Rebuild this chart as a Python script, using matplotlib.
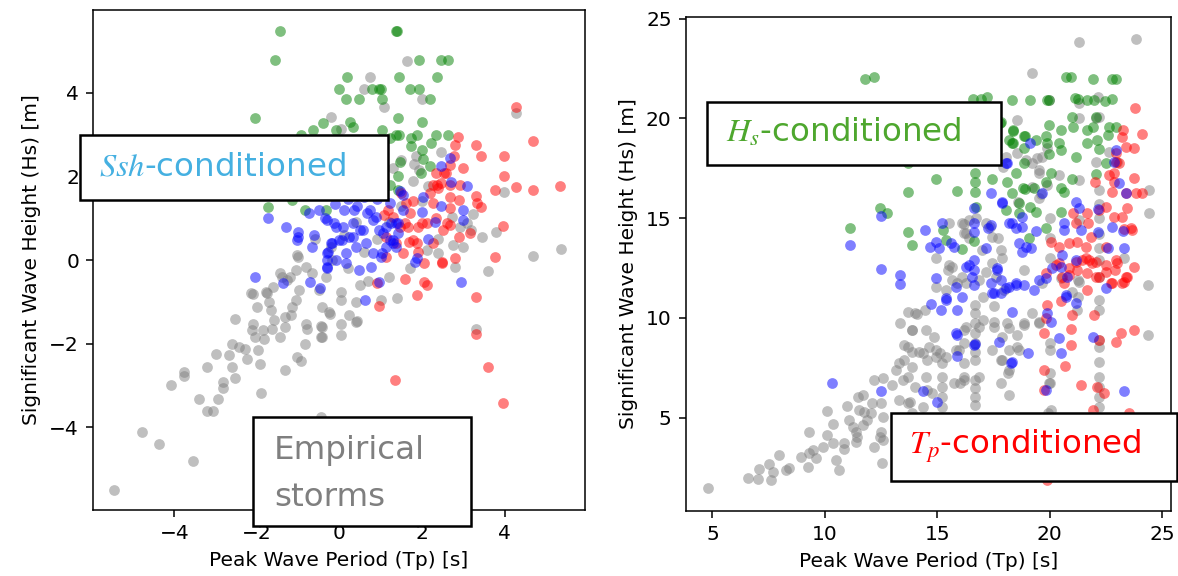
import matplotlib
matplotlib.use("Agg")
import matplotlib.pyplot as plt
from matplotlib.patches import Rectangle

# ---- data: (Tp, Hs) pairs per group ----

# left panel (standardised values)
left_empirical = [
    (-5.47, -5.49), (-4.78, -4.11), (-4.36, -4.39), (-3.54, -4.8), (-4.08, -2.98), (-3.76, -2.67),
    (-3.76, -2.78), (-3.22, -2.55), (-3.4, -3.32), (-3.22, -3.61), (-3.07, -3.61), (-2.93, -3.32),
    (-2.81, -2.92), (-2.81, -3.05), (-2.52, -2.82), (-2.6, -2.55), (-2.68, -2.28), (-2.99, -2.24),
    (-2.52, -1.42), (-1.9, -3.18), (-1.32, -2.63), (-1.02, -2.32), (-0.94, -2.42), (-0.84, -2.02),
    (-2.1, -0.82), (-1.99, -1.12), (-2.1, -1.54), (-1.79, -0.76), (-2.6, -2.02), (-2.44, -2.08),
    (-2.28, -2.12), (-2.24, -2.36), (-1.98, -2.16), (-1.93, -2.48), (-2.04, -1.84), (-1.83, -1.88),
    (-2.12, -1.68), (-1.86, -1.68), (-1.65, -1.2), (-1.71, -1.0), (-1.59, -1.44), (-1.63, -1.64),
    (-1.43, -1.84), (-1.32, -1.6), (-1.31, -1.36), (-1.14, -1.12), (-1.18, -1.32), (-1.05, -0.96),
    (-0.82, -1.52), (-0.78, -1.64), (-0.45, -1.59), (-0.45, -1.84), (-0.24, -1.28), (-0.41, -1.12),
    (-0.49, -0.72), (-0.98, -0.72), (-1.27, -0.48), (-1.43, -0.32), (-1.06, -0.24), (-1.02, 0.12),
    (-0.82, -0.16), (-0.66, -0.32), (-0.33, -0.4), (-0.17, 0.0), (-1.01, 0.08), (-1.19, -0.4),
    (-1.38, -0.4), (-1.62, -0.64), (-1.75, -0.8), (-2.13, -0.8), (-0.45, -3.75),
    (0.04, -0.96), (0.04, -0.76), (-0.26, -1.24), (0.24, -1.32), (0.04, -1.52), (0.04, -1.8),
    (-0.42, -1.84), (-0.42, -1.6), (0.39, -1.0), (0.42, -1.46), (0.39, -1.48), (1.01, -0.95),
    (1.4, -0.9), (3.31, -1.64), (3.61, -0.26), (4.69, 0.1), (5.37, 0.26), (3.79, 0.68),
    (3.46, 0.56), (3.18, 0.72), (2.99, 0.32), (2.76, 0.36), (2.81, -0.16), (2.39, 0.16),
    (2.11, 0.24), (2.92, 0.8), (2.72, 1.04), (3.08, 0.88), (3.23, 1.11), (3.99, 1.62),
    (4.27, 3.51), (2.47, 2.58), (1.85, 2.48), (1.5, 2.4), (1.93, 2.16), (1.78, 1.9),
    (2.15, 1.76), (1.64, 4.77), (0.75, 4.37), (0.59, 4.1), (1.09, 3.67), (-0.2, 3.41),
    (0.04, 3.13), (1.99, 3.86), (-0.2, 0.3), (0.1, 0.6), (0.4, 0.9), (0.6, 0.2), (0.9, 0.5),
    (1.2, 0.9), (1.5, 1.3), (1.0, 1.6), (0.3, 1.8), (1.3, 2.2), (0.8, 2.4), (1.8, 2.3),
    (2.0, 1.4), (2.4, 0.5), (1.7, -0.2), (1.2, -0.4), (0.7, -0.5), (-0.6, 0.5), (0.2, -0.2),
    (0.5, -0.6),
]
left_hs_cond = [
    (-1.43, 5.47), (-1.55, 4.78), (1.36, 5.47), (1.40, 5.47), (1.94, 4.78), (2.47, 4.78),
    (2.64, 4.78), (0.18, 4.37), (1.45, 4.37), (2.37, 4.37), (-0.02, 4.09), (1.70, 4.09),
    (1.92, 4.09), (1.01, 4.09), (0.8, 4.09), (0.95, 4.09), (0.15, 3.86), (0.47, 3.86),
    (1.04, 3.86), (2.2, 3.86), (-2.05, 3.39), (1.41, 3.39), (1.99, 3.29), (-0.40, 3.28),
    (0.25, 3.3), (0.34, 3.18), (-0.64, 3.12), (-0.08, 3.12), (-0.92, 3.0), (1.04, 3.1),
    (1.44, 2.98), (1.87, 2.98), (2.34, 2.98), (2.64, 2.98), (1.74, 2.92), (1.74, 2.72),
    (1.99, 2.64), (2.23, 2.8), (2.03, 2.42), (2.19, 2.24), (1.46, 2.34), (1.98, 2.08),
    (1.42, 2.0), (1.22, 2.92), (1.22, 1.8), (1.42, 1.68), (1.04, 1.68), (-1.72, 1.27),
    (-0.83, 1.19), (-1.15, 1.44), (-0.32, 1.2), (1.38, 3.0), (0.5, 2.6), (0.9, 2.3),
    (0.2, 1.9), (0.7, 1.6), (-0.2, 2.1), (0.95, 2.7),
]
left_ssh_cond = [
    (-2.05, -0.4), (-1.37, -0.56), (-0.72, -0.52), (-0.48, -0.67), (-0.29, -0.2), (-0.29, 0.0),
    (-0.27, 0.2), (-0.66, 0.32), (-1.02, 0.48), (-0.17, 0.4), (0.62, -0.96), (0.96, -0.52),
    (2.94, -0.52), (-1.73, 1.0), (-1.29, 0.78), (-1.01, 0.68), (-1.01, 0.56), (-0.62, 0.6),
    (-0.73, 1.12), (-0.5, 1.2), (-0.31, 0.96), (-0.08, 0.8), (0.11, 1.2), (0.43, 1.28),
    (0.67, 1.12), (0.81, 0.96), (0.57, 0.72), (0.34, 0.56), (0.06, 0.48), (-0.31, 0.16),
    (-0.31, -0.16), (-0.08, 0.0), (0.15, -0.08), (0.48, -0.24), (0.76, -0.16), (1.04, 0.16),
    (1.23, 0.48), (1.41, 0.64), (-0.36, 1.0), (-0.12, 0.88), (0.36, 1.2), (0.73, 1.2),
    (0.89, 1.04), (0.97, 0.72), (0.49, 0.72), (0.24, 0.56), (0.0, 0.48), (-0.2, 0.4),
    (0.16, 0.16), (0.41, 0.32), (0.65, 0.4), (0.81, 0.16), (1.14, 0.32), (1.3, 0.48),
    (1.38, 0.88), (0.32, 0.88), (0.08, 0.8), (2.68, 2.44), (2.47, 2.26), (2.7, 1.86),
    (3.1, 1.78), (1.46, 1.64), (1.54, 1.56), (2.03, 1.5), (2.47, 1.28), (2.01, 1.16),
    (3.0, 1.19), (3.0, 0.96), (2.31, 0.92), (2.15, 0.5), (1.22, 1.36), (1.54, 1.2),
    (1.26, 0.88), (1.42, 0.88), (1.14, 0.8), (1.3, 0.4), (1.38, 0.32), (1.05, 0.64),
    (1.01, 0.08), (1.87, 0.04), (1.83, -0.04), (0.6, 1.5), (0.9, 1.45), (0.2, 1.45),
    (-0.1, 1.35),
]
left_tp_cond = [
    (4.28, 3.67), (4.69, 2.84), (2.88, 2.94), (2.81, 2.75), (3.30, 2.75), (3.43, 2.48),
    (3.98, 2.48), (3.98, 2.0), (3.77, 1.68), (4.28, 1.75), (4.69, 1.68), (5.35, 1.76),
    (2.77, 2.48), (2.34, 2.08), (2.53, 2.08), (2.37, 1.8), (2.67, 1.8), (2.69, 2.28),
    (2.58, 2.08), (2.47, 1.84), (2.27, 1.8), (2.39, 1.72), (2.92, 1.8), (2.9, 1.43),
    (3.31, 1.54), (3.43, 1.26), (3.33, 1.36), (2.69, 1.5), (2.68, 1.24), (2.27, 1.36),
    (2.35, 1.0), (2.6, 0.88), (2.52, 0.72), (2.68, 0.84), (3.16, 0.64), (2.9, 0.55),
    (3.97, 0.82), (3.77, 0.08), (1.69, 0.44), (1.91, 0.18), (2.27, 0.4), (2.11, 0.88),
    (1.18, 1.2), (1.3, 1.04), (1.62, 1.36), (1.78, 1.4), (1.7, 1.12), (1.46, 0.8),
    (1.66, 0.8), (1.14, 0.56), (1.38, 0.4), (1.58, 0.88), (1.91, 0.8), (1.99, 0.88),
    (1.78, 0.48), (1.14, 0.08), (1.54, 0.16), (1.87, 0.4), (1.09, 1.08), (2.81, 0.04),
    (2.48, -0.04), (1.6, -0.46), (2.06, -0.52), (2.11, -0.6), (3.32, -0.88), (1.88, -0.84),
    (0.97, -1.1), (0.91, -0.54), (2.49, -0.06), (2.04, -0.06), (3.31, -1.76), (3.61, -2.55),
    (1.35, -2.86), (3.97, -3.41), (3.0, 2.2), (1.5, 1.6), (2.2, 1.6),
]

# right panel (physical values)
right_empirical = [
    (4.79, 1.46), (6.57, 1.99), (7.01, 1.93), (7.61, 1.88), (7.09, 2.41), (7.53, 2.66),
    (7.98, 3.13), (7.68, 2.29), (8.28, 2.38), (8.42, 2.46), (8.94, 3.01), (9.24, 2.54),
    (9.31, 3.22), (9.46, 3.38), (9.61, 2.96), (9.9, 3.55), (10.12, 4.13), (10.35, 3.72),
    (10.5, 2.88), (10.64, 2.38), (10.87, 3.75), (10.87, 3.42), (10.12, 5.35), (10.35, 4.67),
    (9.28, 4.3), (11.01, 5.59), (11.46, 6.05), (11.68, 6.14), (11.39, 3.8), (11.06, 4.88),
    (11.24, 4.55), (11.39, 4.3), (11.76, 5.27), (12.05, 5.22), (12.12, 5.72), (12.2, 6.89),
    (12.57, 6.97), (12.5, 5.72), (12.57, 5.05), (12.5, 4.3), (12.57, 3.88), (12.2, 3.55),
    (12.54, 2.74), (13.01, 6.64), (13.16, 7.39), (13.31, 7.73), (13.46, 6.89), (13.68, 7.06),
    (13.68, 5.72), (13.31, 5.89), (13.53, 7.89), (13.68, 8.56), (13.34, 9.73), (13.68, 10.28),
    (14.12, 10.2), (13.88, 9.39), (14.5, 9.39), (14.35, 8.26), (14.5, 7.06), (14.64, 8.56),
    (14.87, 9.06), (14.94, 8.06), (14.45, 10.4), (14.03, 10.23), (13.87, 9.4), (13.53, 8.64),
    (13.87, 8.31), (14.2, 8.31), (14.53, 7.89), (13.87, 7.56), (14.03, 6.55), (14.53, 6.39),
    (13.78, 5.8), (14.36, 5.55), (13.87, 5.22), (13.45, 4.55), (14.2, 4.22), (13.45, 3.88),
    (11.87, 4.88), (12.45, 4.05), (11.7, 4.63), (11.45, 4.05), (11.53, 5.39),
    (16.7, 10.65), (16.7, 10.23), (16.7, 9.73), (16.7, 9.23), (16.7, 8.73), (16.7, 8.31),
    (16.7, 7.89), (16.7, 6.89), (16.7, 6.47), (16.7, 6.05), (16.7, 5.64), (15.2, 7.73),
    (15.2, 7.06), (15.2, 6.55), (15.2, 6.05), (15.2, 5.55), (15.12, 8.23), (16.2, 9.4),
    (16.2, 8.73), (16.2, 7.73), (16.2, 7.06), (16.03, 6.72), (15.95, 8.39), (17.03, 11.07),
    (17.03, 9.9), (17.53, 10.57), (17.53, 9.56), (17.87, 9.06), (18.12, 9.73), (18.53, 8.56),
    (18.87, 9.73), (19.2, 10.23), (17.87, 7.89), (18.16, 7.23), (18.2, 8.39), (19.53, 9.73),
    (20.03, 8.73), (20.03, 8.39), (20.03, 7.23), (20.03, 6.72), (19.95, 5.22), (22.2, 10.9),
    (22.2, 10.4), (22.2, 8.89), (22.2, 8.56), (22.2, 7.81), (22.2, 7.06), (22.2, 6.55),
    (22.2, 6.05), (22.2, 5.55), (21.28, 11.9), (21.28, 11.07), (21.2, 10.4), (24.4, 11.65),
    (24.4, 9.15), (14.94, 11.57), (15.39, 11.4), (15.9, 11.74), (17.53, 9.81), (18.2, 9.48),
    (18.87, 9.65), (19.53, 9.81), (18.64, 8.39), (18.57, 9.15), (17.83, 7.89), (18.2, 7.39),
    (17.83, 6.72), (18.2, 6.14), (17.46, 8.39), (16.87, 7.06), (16.2, 6.89), (15.76, 6.72),
    (15.83, 8.39), (15.39, 8.06), (14.94, 8.39), (14.79, 6.22), (16.28, 9.56), (16.87, 9.56),
    (19.98, 6.72), (20.05, 5.39), (21.31, 23.85), (23.83, 23.97), (19.24, 22.29),
    (19.98, 20.93), (21.31, 20.76), (22.2, 20.09), (18.57, 19.92), (21.31, 20.01),
    (22.07, 20.01), (19.68, 18.08), (19.53, 17.42), (20.42, 17.17), (21.31, 16.91),
    (22.07, 17.83), (22.64, 18.33), (24.42, 16.41), (24.42, 15.28), (18.05, 18.08),
    (19.24, 17.75), (21.31, 11.82), (22.2, 12.07), (19.68, 11.74), (18.87, 12.4),
    (22.15, 21.09), (16.12, 14.74), (16.41, 14.91), (16.72, 14.99), (17.16, 14.74),
    (17.46, 14.07), (17.83, 13.41), (17.01, 13.41), (16.28, 14.27), (16.41, 13.99),
    (14.94, 12.99), (15.46, 12.4), (15.68, 12.57), (16.12, 12.07), (15.68, 11.9),
    (16.28, 11.74), (16.87, 11.9), (17.16, 12.32), (17.46, 12.74), (17.9, 12.99),
    (17.61, 12.07), (17.98, 11.4), (18.53, 18.25), (17.95, 17.58), (18.95, 17.92),
    (19.45, 18.0), (19.53, 17.25), (19.87, 16.66), (19.53, 16.0), (19.2, 16.58),
    (18.61, 15.83), (16.2, 14.71), (16.2, 14.24), (17.7, 13.99), (17.36, 14.57),
    (15.53, 14.74), (15.53, 12.65), (22.2, 12.9), (22.2, 13.5), (22.2, 14.2), (22.2, 15.0),
    (22.2, 15.7), (22.2, 16.4), (20.0, 13.0), (20.0, 14.0), (20.0, 15.0), (19.6, 16.2),
    (23.0, 17.8), (21.3, 14.9), (20.5, 12.0), (21.0, 11.3), (23.3, 13.0), (19.9, 18.5),
]
right_hs_cond = [
    (11.78, 21.98), (12.2, 22.06), (16.61, 20.98), (16.94, 20.96), (17.23, 21.06),
    (18.32, 20.93), (19.12, 20.93), (19.9, 20.93), (19.98, 20.93), (20.72, 22.09),
    (20.94, 22.09), (21.95, 21.96), (22.79, 21.96), (22.94, 21.96), (21.13, 21.01),
    (21.28, 20.96), (21.68, 20.93), (21.98, 20.93), (22.47, 20.89), (22.79, 20.99),
    (21.01, 20.06), (22.08, 20.06), (19.98, 19.67), (20.5, 19.42), (21.04, 19.56),
    (21.68, 19.42), (21.93, 19.59), (22.64, 19.56), (22.94, 19.56), (18.38, 19.42),
    (18.91, 19.12), (18.32, 18.78), (19.39, 18.92), (19.83, 19.12), (19.9, 18.75),
    (20.42, 18.78), (21.68, 18.78), (22.13, 18.92), (22.58, 19.17), (18.87, 18.5),
    (19.98, 18.22), (20.5, 18.42), (22.2, 18.45), (21.19, 18.05), (18.87, 17.78),
    (22.5, 17.78), (18.52, 17.28), (20.08, 17.28), (22.07, 17.22), (18.12, 16.83),
    (18.82, 16.5), (19.31, 16.5), (19.83, 16.83), (20.5, 16.5), (20.64, 16.33),
    (20.99, 16.95), (18.32, 16.28), (18.64, 15.75), (18.64, 15.25), (19.39, 15.33),
    (20.5, 15.33), (19.83, 14.49), (19.08, 13.99), (13.7, 17.75), (13.7, 16.3),
    (14.95, 16.95), (15.87, 16.36), (12.45, 15.5), (12.78, 15.25), (11.12, 14.49),
    (13.7, 14.32), (13.9, 13.66), (16.67, 17.25), (16.67, 16.83), (16.67, 16.3),
    (17.45, 16.97), (17.79, 19.79), (18.36, 19.39), (18.87, 19.14), (18.36, 18.75),
    (15.24, 14.41), (15.39, 13.91), (16.12, 13.44), (16.64, 13.87), (16.72, 15.58),
    (18.05, 15.41), (18.2, 18.92), (17.83, 19.84), (19.12, 15.58), (18.9, 16.45),
]
right_ssh_cond = [
    (12.5, 12.44), (13.36, 12.15), (13.36, 11.7), (14.72, 10.7), (10.32, 6.75), (12.5, 6.35),
    (14.35, 6.35), (14.94, 11.99), (15.01, 5.8), (11.12, 13.66), (12.5, 15.11), (14.47, 14.41),
    (14.68, 13.57), (14.94, 13.82), (15.09, 13.49), (15.21, 14.74), (15.61, 13.74),
    (15.76, 13.57), (16.64, 15.5), (16.64, 14.74), (16.64, 14.32), (17.24, 14.49),
    (17.39, 14.66), (17.16, 13.49), (17.41, 16.28), (17.88, 15.78), (18.2, 14.74),
    (15.83, 11.57), (16.28, 12.57), (16.64, 12.9), (16.64, 12.4), (16.64, 11.65),
    (17.39, 11.74), (17.68, 12.4), (17.46, 11.24), (17.83, 11.9), (16.12, 11.07),
    (15.39, 10.98), (18.05, 17.75), (19.12, 18.78), (18.12, 17.75), (22.94, 18.42),
    (22.87, 17.83), (23.09, 16.75), (23.39, 16.28), (19.68, 16.28), (17.9, 15.83),
    (18.35, 14.74), (18.79, 15.08), (18.79, 14.57), (18.5, 14.49), (19.39, 14.37),
    (18.64, 13.74), (18.94, 13.57), (19.16, 13.49), (18.79, 13.32), (21.16, 15.83),
    (21.31, 15.5), (20.64, 14.74), (20.64, 14.41), (21.39, 14.41), (22.17, 15.45),
    (22.17, 14.32), (22.79, 14.57), (23.27, 14.37), (22.61, 13.49), (23.31, 13.49),
    (21.16, 12.9), (20.57, 13.16), (20.12, 12.49), (20.5, 12.54), (19.83, 11.99),
    (19.53, 11.9), (20.79, 12.07), (18.5, 11.65), (18.05, 11.49), (22.5, 11.49),
    (20.72, 11.15), (15.16, 10.4), (15.39, 10.9), (15.9, 10.4), (15.83, 9.23), (16.64, 8.64),
    (15.9, 8.09), (17.68, 12.49), (17.53, 11.24), (17.83, 11.24), (18.2, 11.57),
    (18.52, 11.74), (18.87, 11.65), (18.35, 10.31), (17.76, 8.81), (18.27, 7.76),
    (19.06, 8.26), (19.31, 11.4), (19.9, 10.23), (20.05, 9.81), (20.42, 8.98), (20.5, 8.26),
    (20.72, 11.07), (21.16, 10.76), (19.83, 6.39), (21.95, 9.03), (23.31, 6.34),
    (16.57, 12.07), (16.42, 12.65), (18.32, 7.81), (15.87, 9.14), (16.67, 8.69),
]
right_tp_cond = [
    (23.8, 20.51), (24.1, 19.22), (23.27, 19.42), (23.21, 19.09), (23.39, 18.58), (23.76, 18.5),
    (22.94, 18.25), (22.94, 17.83), (23.09, 17.75), (22.87, 17.25), (22.87, 16.83), (23.76, 17.0),
    (22.79, 16.33), (23.39, 16.28), (23.83, 16.25), (24.13, 16.25), (22.0, 16.83), (22.64, 17.17),
    (21.04, 15.25), (21.16, 14.74), (21.68, 15.28), (21.73, 14.74), (22.2, 15.41), (22.5, 15.58),
    (22.87, 15.08), (23.46, 15.5), (23.61, 14.49), (23.24, 15.08), (23.31, 14.44), (23.68, 14.41),
    (20.05, 13.82), (20.42, 13.57), (20.87, 13.74), (21.24, 13.82), (21.61, 13.57), (21.83, 14.07),
    (21.46, 12.9), (21.76, 12.9), (21.9, 12.74), (20.87, 12.49), (20.57, 12.07), (20.42, 12.74),
    (21.24, 12.4), (22.5, 13.57), (22.94, 12.9), (22.91, 12.4), (22.5, 12.65), (22.79, 11.74),
    (23.39, 12.07), (23.76, 12.54), (23.31, 11.82), (22.2, 12.07), (21.68, 11.4), (23.46, 12.07),
    (23.24, 11.74), (22.72, 11.74), (23.02, 12.74), (22.05, 12.82), (21.61, 12.99), (21.16, 12.82),
    (20.87, 12.15), (20.64, 11.74), (20.28, 12.65), (19.83, 12.24), (21.68, 12.24), (22.05, 12.07),
    (22.5, 12.32), (19.9, 10.65), (19.83, 9.98), (20.5, 10.86), (21.01, 10.15), (20.94, 9.43),
    (21.98, 10.15), (19.76, 9.23), (20.94, 8.64), (20.69, 7.59), (19.76, 7.39), (21.39, 6.64),
    (23.16, 9.26), (22.94, 8.81), (23.76, 9.4), (22.2, 8.9), (22.13, 6.52), (22.43, 6.25),
    (19.76, 6.39), (21.92, 5.39), (23.53, 5.22), (19.9, 1.88),
]

W, H = 1178, 576
plt.rcParams['mathtext.fontset'] = 'stix'

fig = plt.figure(figsize=(W / 100, H / 100), dpi=100)
ax1 = fig.add_axes([93 / W, 1 - 510 / H, 492 / W, 500 / H])
ax2 = fig.add_axes([685.6 / W, 1 - 510.7 / H, 485.4 / W, 494 / H])

groups = ['empirical', 'hs', 'tp', 'ssh']
colors = {'empirical': 'gray', 'hs': 'green', 'tp': 'red', 'ssh': 'blue'}
left = {'empirical': left_empirical, 'hs': left_hs_cond, 'tp': left_tp_cond, 'ssh': left_ssh_cond}
right = {'empirical': right_empirical, 'hs': right_hs_cond, 'tp': right_tp_cond, 'ssh': right_ssh_cond}

for ax, data in [(ax1, left), (ax2, right)]:
    for g in groups:
        xs, ys = zip(*data[g])
        ax.scatter(xs, ys, s=60, color=colors[g], alpha=0.5, linewidths=0)
    ax.set_xlabel('Peak Wave Period (Tp) [s]', fontsize=14.5, labelpad=6)
    ax.set_ylabel('Significant Wave Height (Hs) [m]', fontsize=14.5, labelpad=6)
    ax.tick_params(labelsize=14.5, length=5, width=1.1, pad=5)
    for sp in ax.spines.values():
        sp.set_linewidth(1.1)

# keep the +/-6 ticks just outside the frame, as in the original
ax1.set_xlim(-5.97, 5.95)
ax1.set_ylim(-5.98, 5.98)


# annotation boxes (figure pixel coords, measured from top-left)
def note(x0, y0, x1, y1, tx, lines, color):
    fig.add_artist(Rectangle((x0 / W, 1 - y1 / H), (x1 - x0) / W, (y1 - y0) / H,
                             transform=fig.transFigure, facecolor='white',
                             edgecolor='black', linewidth=1.8, zorder=10))
    for ty, s in lines:
        fig.text(tx / W, 1 - ty / H, s, color=color, fontsize=23.4,
                 ha='left', va='center', zorder=11)


note(80, 135, 388, 200, 99, [(167, '$Ssh$-conditioned')], '#45b0e1')
note(253, 417, 471, 526, 274, [(450, 'Empirical'), (497, 'storms')], '#7f7f7f')
note(707, 102, 1001, 165, 726, [(133, '$H_s$-conditioned')], '#4ea72e')
note(891, 413, 1177, 481, 909, [(446, '$T_p$-conditioned')], '#ff0000')

fig.savefig('out.png', dpi=100)
